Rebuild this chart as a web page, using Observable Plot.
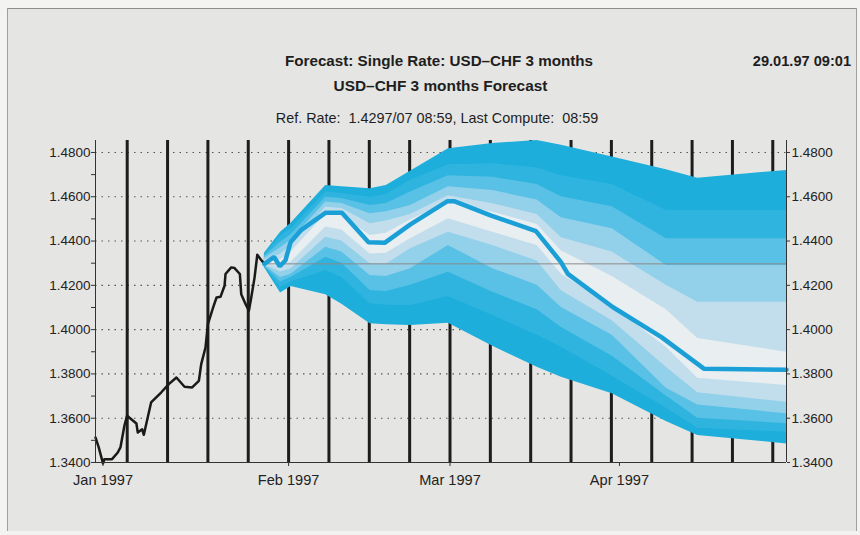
<!DOCTYPE html>
<html>
<head>
<meta charset="utf-8">
<script src="https://cdn.jsdelivr.net/npm/d3@7"></script>
<script src="https://cdn.jsdelivr.net/npm/@observablehq/plot@0.6"></script>
<style>
  html, body { margin: 0; padding: 0; background: #f3f3f2; }
  #wrap { position: relative; width: 860px; height: 535px; overflow: hidden; font-family: "Liberation Sans", Arial, Helvetica, sans-serif; }
  #panel { position: absolute; left: 7px; top: 8px; width: 848px; height: 522px; background: #e5e5e3; border-top: 1px solid #8c8c8c; border-left: 1px solid #a0a0a0; border-right: 1px solid #a0a0a0; }
  .t { position: absolute; white-space: nowrap; color: #1e1e1e; line-height: 18px; }
  .b { font-weight: bold; }
  #chart { position: absolute; left: 0; top: 0; }
</style>
</head>
<body>
<div id="wrap">
  <div id="panel"></div>
  <div class="t b" id="title1" style="left:0;width:878px;text-align:center;top:52px;font-size:15.2px;">Forecast: Single Rate: USD–CHF 3 months</div>
  <div class="t b" id="title2" style="left:0;width:881px;text-align:center;top:77px;font-size:15.4px;">USD–CHF 3 months Forecast</div>
  <div class="t" id="sub" style="left:0;width:874px;text-align:center;top:109px;font-size:14.4px;">Ref. Rate:&nbsp; 1.4297/07 08:59, Last Compute:&nbsp; 08:59</div>
  <div class="t b" id="stamp" style="right:9px;top:52px;font-size:14.6px;">29.01.97 09:01</div>
  <div id="chart"></div>
</div>
<script>
// ---- x axis: business-day index from 1 Jan 1997 ----
const monthTicks = [0, 23, 43, 64];
const monthLabels = ["Jan 1997", "Feb 1997", "Mar 1997", "Apr 1997"];
const mondays = [3, 8, 13, 18, 23, 28, 33, 38, 43, 48, 53, 58, 63, 68, 73, 78, 83];
const yMajor = [1.34, 1.36, 1.38, 1.40, 1.42, 1.44, 1.46, 1.48];
const yMinor = [1.35, 1.37, 1.39, 1.41, 1.43, 1.45, 1.47];
const refRate = 1.4297;
const forecastStart = 20;

// ---- history (black) ----
const histDay = [-0.93, -0.53, 0.0, 0.17, 1.12, 1.83, 2.16, 2.65, 2.98, 4.14, 4.31, 4.85, 5.06, 5.26, 5.96, 7.2, 8.15, 9.1, 10.1, 11.05, 11.88, 12.17, 12.7, 13.0, 13.65, 14.07, 14.56, 15.06, 15.18, 15.89, 16.3, 16.96, 17.13, 17.67, 18.08, 18.37, 18.78, 19.12, 19.53, 20.0];
const histRate = [1.3513, 1.3468, 1.3396, 1.3415, 1.3415, 1.3445, 1.3468, 1.3566, 1.3611, 1.3576, 1.3535, 1.3550, 1.3525, 1.3558, 1.3671, 1.3716, 1.3754, 1.3784, 1.3742, 1.3739, 1.3769, 1.3844, 1.3919, 1.4025, 1.4100, 1.4145, 1.4148, 1.4198, 1.4251, 1.4281, 1.4278, 1.4251, 1.4160, 1.4115, 1.4085, 1.4145, 1.4235, 1.4338, 1.4318, 1.4297];

// ---- forecast centre line (blue) ----
const fcDay = [20.0, 21.2, 21.9, 22.6, 23.25, 24.5, 27.6, 29.6, 32.9, 34.9, 38.1, 42.7, 43.5, 48.1, 53.65, 56.75, 57.6, 63.2, 69.2, 74.5, 84.7];
const fcRate = [1.4297, 1.4328, 1.4286, 1.4312, 1.4395, 1.4448, 1.4528, 1.4528, 1.4395, 1.4392, 1.4475, 1.4580, 1.4580, 1.4515, 1.4445, 1.4305, 1.4252, 1.4101, 1.3966, 1.3823, 1.3819];

// ---- forecast fan: band boundaries, outer (0) to inner (5) ----
const fanDay = [20.0, 22.0, 23.3, 27.6, 29.6, 33.1, 35.1, 38.1, 42.8, 48.3, 53.8, 56.8, 63.1, 69.8, 73.7, 84.7];
const up0 = [1.4345, 1.4440, 1.4480, 1.4651, 1.4645, 1.4636, 1.4651, 1.4715, 1.4817, 1.4840, 1.4854, 1.4832, 1.4779, 1.4722, 1.4684, 1.4719];
const up1 = [1.4338, 1.4420, 1.4455, 1.4621, 1.4615, 1.4598, 1.4610, 1.4674, 1.4745, 1.4749, 1.4730, 1.4695, 1.4655, 1.4538, 1.4538, 1.4538];
const up2 = [1.4330, 1.4395, 1.4430, 1.4598, 1.4592, 1.4560, 1.4570, 1.4621, 1.4695, 1.4688, 1.4655, 1.4600, 1.4555, 1.4410, 1.4410, 1.4410];
const up3 = [1.4322, 1.4370, 1.4405, 1.4576, 1.4570, 1.4523, 1.4532, 1.4561, 1.4645, 1.4628, 1.4585, 1.4505, 1.4455, 1.4290, 1.4290, 1.4290];
const up4 = [1.4314, 1.4340, 1.4380, 1.4553, 1.4547, 1.4478, 1.4490, 1.4520, 1.4605, 1.4568, 1.4520, 1.4415, 1.4350, 1.4200, 1.4124, 1.4124];
const up5 = [1.4307, 1.4315, 1.4350, 1.4520, 1.4515, 1.4425, 1.4435, 1.4495, 1.4575, 1.4530, 1.4475, 1.4355, 1.4240, 1.4090, 1.3960, 1.3898];
const lo5 = [1.4295, 1.4285, 1.4305, 1.4463, 1.4450, 1.4342, 1.4345, 1.4410, 1.4501, 1.4440, 1.4380, 1.4250, 1.4105, 1.3920, 1.3780, 1.3748];
const lo4 = [1.4292, 1.4260, 1.4275, 1.4417, 1.4400, 1.4297, 1.4295, 1.4365, 1.4440, 1.4380, 1.4310, 1.4175, 1.4040, 1.3830, 1.3715, 1.3672];
const lo3 = [1.4289, 1.4235, 1.4250, 1.4372, 1.4350, 1.4244, 1.4240, 1.4275, 1.4380, 1.4275, 1.4200, 1.4100, 1.3975, 1.3735, 1.3660, 1.3620];
const lo2 = [1.4286, 1.4215, 1.4235, 1.4327, 1.4300, 1.4177, 1.4172, 1.4200, 1.4259, 1.4169, 1.4090, 1.4010, 1.3880, 1.3700, 1.3600, 1.3575];
const lo1 = [1.4283, 1.4190, 1.4215, 1.4267, 1.4235, 1.4117, 1.4110, 1.4109, 1.4150, 1.4064, 1.3975, 1.3920, 1.3790, 1.3645, 1.3555, 1.3537];
const lo0 = [1.4280, 1.4165, 1.4195, 1.4158, 1.4115, 1.4026, 1.4022, 1.4019, 1.4029, 1.3925, 1.3830, 1.3785, 1.3710, 1.3585, 1.3522, 1.3484];

const bandColors = ["#1eaedb", "#2fb4df", "#58c1e5", "#93d0ea", "#c2deec", "#e9eef0"];

const ups = [up0, up1, up2, up3, up4, up5];
const los = [lo0, lo1, lo2, lo3, lo4, lo5];
const hist = histDay.map((d, i) => ({day: d, rate: histRate[i]}));
const fc = fcDay.map((d, i) => ({day: d, rate: fcRate[i]}));
const fan = fanDay.map((d, j) => ({day: d, up: ups.map(a => a[j]), lo: los.map(a => a[j])}));

const xDomain = [-0.93, 84.7];
const yDomain = [1.34, 1.4854];
const fmt = d3.format(".4f");
const font = "'Liberation Sans', Arial, Helvetica, sans-serif";

const bandMarks = bandColors.map((c, k) =>
  Plot.areaY(fan, {x: "day", y1: d => d.up[k], y2: d => d.lo[k], fill: c, curve: "linear"})
);

const chart = Plot.plot({
  width: 860,
  height: 535,
  marginTop: 140,
  marginBottom: 73,
  marginLeft: 95,
  marginRight: 74,
  style: {background: "transparent", fontFamily: font, color: "#222"},
  x: {domain: xDomain, axis: null},
  y: {domain: yDomain, axis: null},
  marks: [
    Plot.ruleY(yMajor, {stroke: "#555", strokeWidth: 1.1, strokeDasharray: "1.5,5"}),
    Plot.ruleX(mondays, {stroke: "#1d1d1d", strokeWidth: 3}),
    ...bandMarks,
    Plot.ruleY([refRate], {x1: forecastStart, x2: xDomain[1], stroke: "#8a8a8a", strokeWidth: 1}),
    Plot.line(hist, {x: "day", y: "rate", stroke: "#1a1a1a", strokeWidth: 2.5, strokeLinejoin: "round"}),
    Plot.line(fc, {x: "day", y: "rate", stroke: "#1a9fd7", strokeWidth: 4.5, strokeLinejoin: "miter"}),
    Plot.ruleX([xDomain[0], xDomain[1]], {stroke: "#333", strokeWidth: 1}),
    Plot.ruleY([yDomain[0]], {stroke: "#333", strokeWidth: 1}),
    Plot.axisY(yMajor, {anchor: "left", label: null, tickSize: 4, tickPadding: 1, tickFormat: fmt, fontSize: 13.5, stroke: "#333"}),
    Plot.axisY(yMinor, {anchor: "left", label: null, tickSize: 4, tickFormat: () => "", stroke: "#333"}),
    Plot.axisY(yMajor, {anchor: "right", label: null, tickSize: 3, tickPadding: 2, tickFormat: fmt, fontSize: 13.5, stroke: "#333"}),
    Plot.axisX(monthTicks, {anchor: "bottom", label: null, tickSize: 4, tickPadding: 8, tickFormat: d => monthLabels[monthTicks.indexOf(d)], fontSize: 14.6, stroke: "#333"})
  ]
});
document.getElementById("chart").appendChild(chart);
</script>
</body>
</html>
